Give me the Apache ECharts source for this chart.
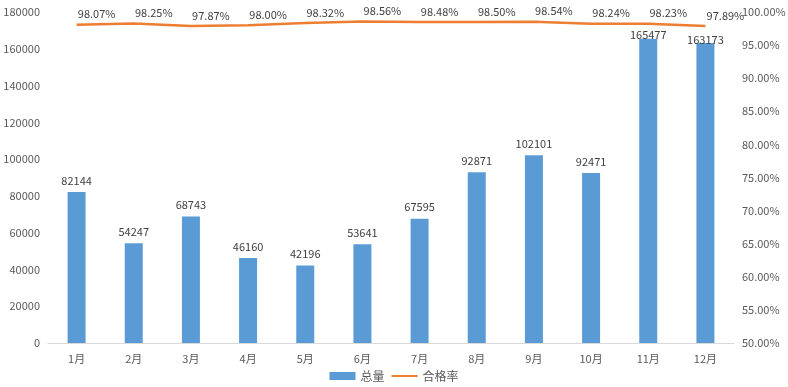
<!DOCTYPE html>
<html><head><meta charset="utf-8">
<script src="https://cdn.jsdelivr.net/npm/echarts@6/dist/echarts.min.js"></script>
<style>html,body{margin:0;padding:0;background:#fff}#c{width:788px;height:387px}</style>
</head><body><div id="c"></div>
<script>
const categories = ['1月','2月','3月','4月','5月','6月','7月','8月','9月','10月','11月','12月'];
const totals = [82144,54247,68743,46160,42196,53641,67595,92871,102101,92471,165477,163173];
const passRates = [98.07,98.25,97.87,98.00,98.32,98.56,98.48,98.50,98.54,98.24,98.23,97.89];
const font = '"Noto Sans CJK SC","Microsoft YaHei",sans-serif';
const chart = echarts.init(document.getElementById('c'));
chart.setOption({
  animation:false,
  textStyle:{fontFamily:font},
  grid:{left:48,right:54,top:12,bottom:44,containLabel:false,outerBoundsMode:'none'},
  legend:{bottom:0,left:'center',itemGap:6,itemWidth:26,itemHeight:8,
    textStyle:{fontSize:12,color:'#595959',fontFamily:font},
    data:[{name:'总量',icon:'rect'},{name:'合格率',itemStyle:{opacity:0}}]},
  xAxis:{type:'category',data:categories,
    axisLine:{lineStyle:{color:'#d9d9d9'}},axisTick:{show:false},
    axisLabel:{color:'#595959',fontSize:11,margin:10,fontFamily:font}},
  yAxis:[
    {type:'value',min:0,max:180000,interval:20000,splitLine:{show:false},
     axisLabel:{color:'#595959',fontSize:11,margin:8,formatter:v=>String(v)}},
    {type:'value',min:50,max:100,interval:5,splitLine:{show:false},
     axisLabel:{color:'#595959',fontSize:11,margin:8,formatter:v=>v.toFixed(2)+'%'}}
  ],
  series:[
    {name:'总量',type:'bar',data:totals,barWidth:18,itemStyle:{color:'#5b9bd5'},
     labelLayout:function(p){ return p.labelRect.y < 40 ? {dy:8} : {}; },
     label:{show:true,position:'top',color:'#404040',fontSize:11,distance:6}},
    {name:'合格率',type:'line',yAxisIndex:1,data:passRates,symbol:'circle',symbolSize:0,showSymbol:true,
     lineStyle:{color:'#ed7d31',width:2.5},itemStyle:{color:'#ed7d31'},z:3,
     labelLayout:{hideOverlap:false,dx:20},
     label:{show:true,position:'top',color:'#404040',fontSize:11,distance:5,formatter:p=>p.value.toFixed(2)+'%'}}
  ]
});
</script></body></html>
